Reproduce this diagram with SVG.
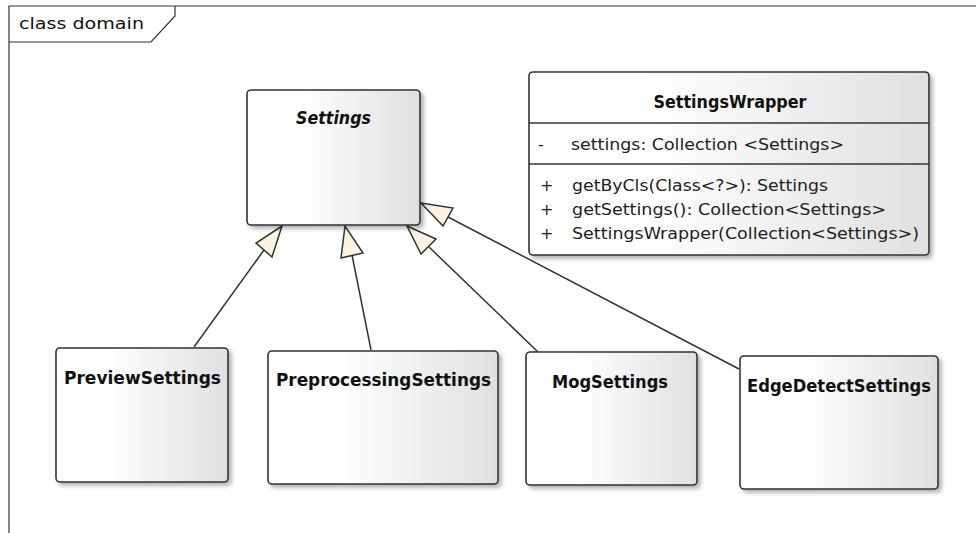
<svg xmlns="http://www.w3.org/2000/svg" width="976" height="533" viewBox="0 0 976 533">
  <defs>
    <linearGradient id="boxfill" x1="0" y1="0" x2="1" y2="0">
      <stop offset="0" stop-color="#ffffff"/>
      <stop offset="0.3" stop-color="#ffffff"/>
      <stop offset="1" stop-color="#e0e0e0"/>
    </linearGradient>
    <filter id="shadow" x="-10%" y="-10%" width="125%" height="125%">
      <feDropShadow dx="3" dy="3" stdDeviation="2" flood-color="#000" flood-opacity="0.3"/>
    </filter>
  </defs>
  <style>
    .frame { fill: none; stroke: #333333; stroke-width: 1.2; }
    .box { fill: url(#boxfill); stroke: #333333; stroke-width: 1.6; filter: url(#shadow); }
    .sep { stroke: #333333; stroke-width: 1.6; }
    .cls { font-family: "DejaVu Sans", "Liberation Sans", sans-serif; font-size: 17px; font-weight: bold; fill: #111111; text-anchor: middle; }
    .abs { font-style: italic; }
    .mem { font-family: "DejaVu Sans", "Liberation Sans", sans-serif; font-size: 16px; fill: #222222; }
    .lbl { font-family: "DejaVu Sans", "Liberation Sans", sans-serif; font-size: 15.5px; fill: #111111; }
    .edge { stroke: #333333; stroke-width: 1.5; fill: none; }
    .head { fill: #fbf2e2; stroke: #333333; stroke-width: 1.5; stroke-linejoin: miter; }
  </style>

  <g id="frame">
    <path class="frame" d="M976,6 L9,6 L9,533"/>
    <path class="frame" d="M9,42 L151,42 L175,16 L175,6"/>
    <text class="lbl" x="19" y="29" textLength="125" lengthAdjust="spacingAndGlyphs">class domain</text>
  </g>

  <g id="connectors">
    <line class="edge" x1="194" y1="347" x2="264" y2="250"/>
    <polygon class="head" points="282,226 256,243 272,257"/>
    <line class="edge" x1="371" y1="350" x2="352" y2="255"/>
    <polygon class="head" points="345,226 341,258 363,253"/>
    <line class="edge" x1="538" y1="352" x2="429" y2="247"/>
    <polygon class="head" points="407,226 436,239 421,254"/>
    <line class="edge" x1="739" y1="369" x2="448" y2="217"/>
    <polygon class="head" points="421,203 453,208 443,226"/>
  </g>

  <g id="Settings">
    <rect class="box" x="247" y="90" width="173" height="135" rx="4"/>
    <text class="cls abs" x="333.5" y="124" textLength="75" lengthAdjust="spacingAndGlyphs">Settings</text>
  </g>

  <g id="SettingsWrapper">
    <rect class="box" x="529" y="72" width="400" height="183" rx="4"/>
    <line class="sep" x1="529" y1="123" x2="929" y2="123"/>
    <line class="sep" x1="529" y1="164" x2="929" y2="164"/>
    <text class="cls" x="730" y="108" textLength="153" lengthAdjust="spacingAndGlyphs">SettingsWrapper</text>
    <text class="mem" x="538" y="150">-</text>
    <text class="mem" x="571" y="150" textLength="273" lengthAdjust="spacingAndGlyphs">settings: Collection &lt;Settings&gt;</text>
    <text class="mem" x="540" y="191">+</text>
    <text class="mem" x="572" y="191" textLength="256" lengthAdjust="spacingAndGlyphs">getByCls(Class&lt;?&gt;): Settings</text>
    <text class="mem" x="540" y="215">+</text>
    <text class="mem" x="572" y="215" textLength="314" lengthAdjust="spacingAndGlyphs">getSettings(): Collection&lt;Settings&gt;</text>
    <text class="mem" x="540" y="239">+</text>
    <text class="mem" x="572" y="239" textLength="347" lengthAdjust="spacingAndGlyphs">SettingsWrapper(Collection&lt;Settings&gt;)</text>
  </g>

  <g id="PreviewSettings">
    <rect class="box" x="56" y="348" width="172" height="134" rx="4"/>
    <text class="cls" x="142.5" y="384" textLength="157" lengthAdjust="spacingAndGlyphs">PreviewSettings</text>
  </g>

  <g id="PreprocessingSettings">
    <rect class="box" x="268" y="351" width="230" height="133" rx="4"/>
    <text class="cls" x="383.5" y="386" textLength="215" lengthAdjust="spacingAndGlyphs">PreprocessingSettings</text>
  </g>

  <g id="MogSettings">
    <rect class="box" x="526" y="352" width="171" height="133" rx="4"/>
    <text class="cls" x="610" y="388" textLength="116" lengthAdjust="spacingAndGlyphs">MogSettings</text>
  </g>

  <g id="EdgeDetectSettings">
    <rect class="box" x="740" y="356" width="198" height="133" rx="4"/>
    <text class="cls" x="839" y="392" textLength="184" lengthAdjust="spacingAndGlyphs">EdgeDetectSettings</text>
  </g>
</svg>
